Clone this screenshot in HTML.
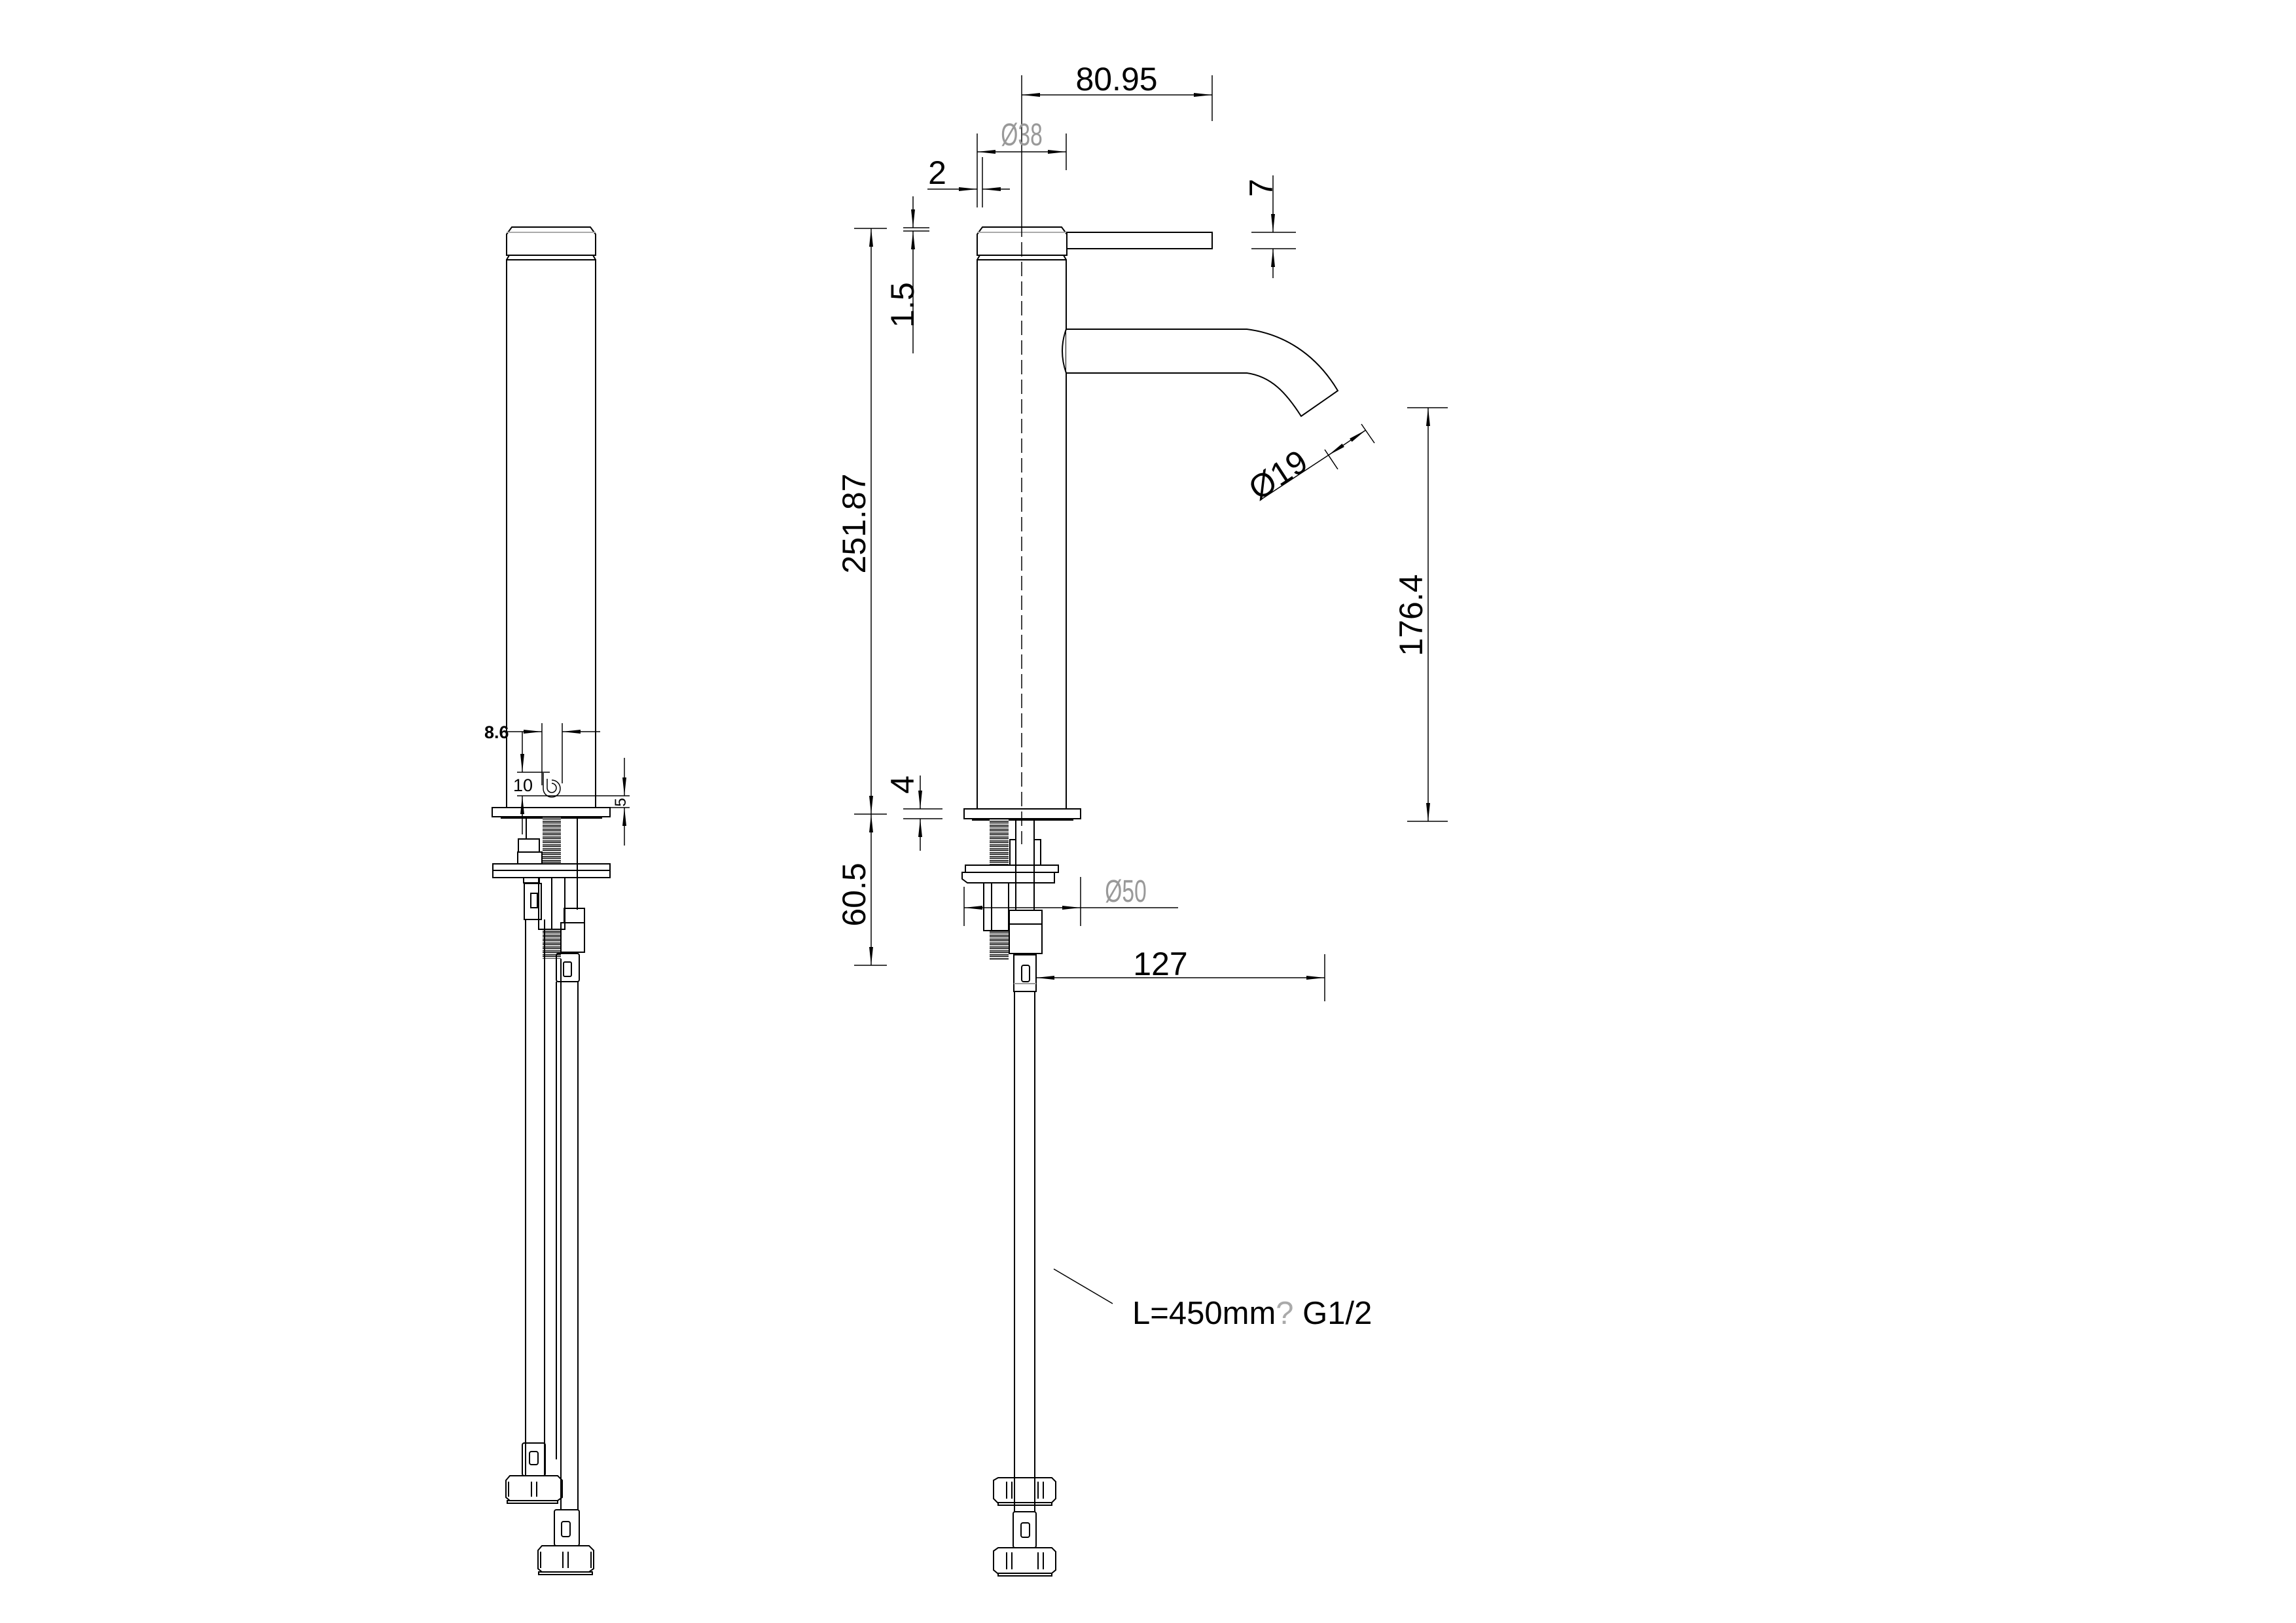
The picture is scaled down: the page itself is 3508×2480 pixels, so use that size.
<!DOCTYPE html>
<html><head><meta charset="utf-8"><style>
html,body{margin:0;padding:0;background:#fff;}
svg{display:block;}
text{font-family:"Liberation Sans",sans-serif;fill:#000;}
</style></head><body>
<svg width="3508" height="2480" viewBox="0 0 3508 2480" xmlns="http://www.w3.org/2000/svg">
<defs>
<marker id="a" viewBox="0 0 28 8" refX="28" refY="4" markerWidth="28" markerHeight="8" markerUnits="userSpaceOnUse" orient="auto-start-reverse"><path d="M0,1 L28,4 L0,7 z" fill="#000"/></marker>
<pattern id="th" width="8" height="6" patternUnits="userSpaceOnUse"><rect width="8" height="6" fill="#fff"/><path d="M0,1 H8 M0,3.5 H8" stroke="#000" stroke-width="1.6"/></pattern>
</defs>
<g fill="none" stroke="#000" stroke-width="2">
<path d="M1493,390 V358 L1501,347 H1622 L1630,358 V390 Z"/>
<line x1="1493" y1="355" x2="1630" y2="355" stroke="#aaa"/>
<rect x="1630" y="355" width="222" height="25"/>
<path d="M1493,397 H1629 M1497,390 L1493,397 M1625,390 L1629,397" />
<rect x="1493" y="397" width="136" height="839"/>
<line x1="1561" y1="340" x2="1561" y2="1290" stroke-dasharray="22,8" stroke-width="1.5"/>
<rect x="1473" y="1236" width="178" height="15"/>
<line x1="1485" y1="1253" x2="1640" y2="1253"/>
<path d="M1629,503 H1905 C1960,510 2010,540 2044,597 L1988,636 C1965,600 1942,575 1905,570 H1629" fill="#fff"/>
<path d="M1629,503 Q1617,536 1629,570"/>
<rect x="1512" y="1251" width="29" height="71" fill="url(#th)" stroke="none"/>
<rect x="1512" y="1422" width="29" height="45" fill="url(#th)" stroke="none"/>
<rect x="1552" y="1251" width="28" height="140"/>
<rect x="1543" y="1283" width="9" height="39"/>
<rect x="1580" y="1283" width="10" height="39"/>
<rect x="1475" y="1322" width="142" height="11"/>
<path d="M1470,1333 H1611 V1349 H1478 L1470,1343 Z"/>
<rect x="1503" y="1349" width="38" height="73"/>
<line x1="1515" y1="1349" x2="1515" y2="1422"/>
<rect x="1542" y="1391" width="50" height="66"/>
<line x1="1542" y1="1412" x2="1592" y2="1412"/>
<rect x="1549" y="1459" width="34" height="56"/>
<rect x="1561" y="1475" width="12" height="25" rx="3"/>
<line x1="1549" y1="1503" x2="1583" y2="1503" stroke="#999"/>
<line x1="1550" y1="1515" x2="1550" y2="2310"/>
<line x1="1581" y1="1515" x2="1581" y2="2310"/>
<path d="M1518,2262 L1525,2258 H1607 L1613,2264 V2290 L1607,2296 H1524 L1518,2290 Z"/>
<path d="M1538,2264 V2290 M1546,2264 V2290 M1586,2264 V2290 M1594,2264 V2290"/>
<rect x="1525" y="2296" width="82" height="4"/>
<rect x="1548" y="2310" width="35" height="55" rx="3"/>
<rect x="1560" y="2327" width="13" height="22" rx="3"/>
<path d="M1518,2370 L1525,2365 H1607 L1613,2371 V2399 L1607,2404 H1524 L1518,2399 Z"/>
<path d="M1538,2372 V2398 M1546,2372 V2398 M1586,2372 V2398 M1594,2372 V2398"/>
<rect x="1525" y="2404" width="82" height="4"/>
<g stroke-width="1.5">
<line x1="1852" y1="115" x2="1852" y2="185"/>
<line x1="1561" y1="115" x2="1561" y2="340"/>
<line x1="1561" y1="145" x2="1852" y2="145" marker-start="url(#a)" marker-end="url(#a)"/>
<line x1="1629" y1="204" x2="1629" y2="260"/>
<line x1="1493" y1="204" x2="1493" y2="317"/>
<line x1="1493" y1="232" x2="1629" y2="232" marker-start="url(#a)" marker-end="url(#a)"/>
<line x1="1501" y1="240" x2="1501" y2="317"/>
<line x1="1417" y1="289" x2="1493" y2="289" marker-end="url(#a)"/>
<line x1="1543" y1="289" x2="1501" y2="289" marker-end="url(#a)"/>
<line x1="1380" y1="348" x2="1420" y2="348"/>
<line x1="1380" y1="353" x2="1420" y2="353"/>
<line x1="1395" y1="300" x2="1395" y2="348" marker-end="url(#a)"/>
<line x1="1395" y1="540" x2="1395" y2="353" marker-end="url(#a)"/>
<line x1="1305" y1="349" x2="1355" y2="349"/>
<line x1="1305" y1="1244" x2="1355" y2="1244"/>
<line x1="1305" y1="1475" x2="1355" y2="1475"/>
<line x1="1331" y1="349" x2="1331" y2="1244" marker-start="url(#a)" marker-end="url(#a)"/>
<line x1="1331" y1="1244" x2="1331" y2="1475" marker-start="url(#a)" marker-end="url(#a)"/>
<line x1="1380" y1="1236" x2="1440" y2="1236"/>
<line x1="1380" y1="1251" x2="1440" y2="1251"/>
<line x1="1406" y1="1185" x2="1406" y2="1236" marker-end="url(#a)"/>
<line x1="1406" y1="1300" x2="1406" y2="1251" marker-end="url(#a)"/>
<line x1="1912" y1="355" x2="1980" y2="355"/>
<line x1="1912" y1="380" x2="1980" y2="380"/>
<line x1="1945" y1="268" x2="1945" y2="355" marker-end="url(#a)"/>
<line x1="1945" y1="425" x2="1945" y2="380" marker-end="url(#a)"/>
<line x1="2024" y1="687" x2="2044" y2="717"/>
<line x1="2080" y1="648" x2="2100" y2="677"/>
<line x1="1927" y1="763" x2="2029" y2="696"/>
<line x1="2029" y1="696" x2="2087" y2="657" marker-start="url(#a)" marker-end="url(#a)"/>
<line x1="2150" y1="623" x2="2212" y2="623"/>
<line x1="2150" y1="1255" x2="2212" y2="1255"/>
<line x1="2182" y1="623" x2="2182" y2="1255" marker-start="url(#a)" marker-end="url(#a)"/>
<line x1="1473" y1="1355" x2="1473" y2="1415"/>
<line x1="1651" y1="1340" x2="1651" y2="1415"/>
<line x1="1473" y1="1387" x2="1651" y2="1387" marker-start="url(#a)" marker-end="url(#a)"/>
<line x1="1651" y1="1387" x2="1800" y2="1387"/>
<line x1="2024" y1="1458" x2="2024" y2="1530"/>
<line x1="1583" y1="1494" x2="2024" y2="1494" marker-start="url(#a)" marker-end="url(#a)"/>
<line x1="1610" y1="1939" x2="1700" y2="1992"/>
</g>
<path d="M774,390 V358 L782,347 H902 L910,358 V390 Z"/>
<line x1="774" y1="355" x2="910" y2="355" stroke="#aaa"/>
<path d="M774,397 H910 M778,390 L774,397 M906,390 L910,397"/>
<rect x="774" y="397" width="136" height="837"/>
<rect x="752" y="1234" width="180" height="14"/>
<line x1="765" y1="1250" x2="920" y2="1250"/>
<rect x="829" y="1248" width="28" height="72" fill="url(#th)" stroke="none"/>
<rect x="829" y="1420" width="28" height="45" fill="url(#th)" stroke="none"/>
<line x1="804" y1="1248" x2="804" y2="1282"/>
<line x1="882" y1="1248" x2="882" y2="1390"/>
<rect x="792" y="1282" width="32" height="20"/>
<rect x="791" y="1302" width="37" height="18"/>
<rect x="753" y="1320" width="179" height="21"/>
<line x1="753" y1="1330" x2="932" y2="1330"/>
<rect x="823" y="1341" width="40" height="79"/>
<line x1="843" y1="1341" x2="843" y2="1420"/>
<rect x="800" y="1341" width="24" height="8"/>
<rect x="801" y="1350" width="26" height="55"/>
<rect x="811" y="1365" width="10" height="22"/>
<line x1="803" y1="1405" x2="803" y2="2255"/>
<line x1="832" y1="1405" x2="832" y2="2255"/>
<rect x="862" y="1388" width="31" height="22"/>
<rect x="857" y="1410" width="36" height="45"/>
<rect x="850" y="1457" width="35" height="43" rx="3"/>
<rect x="861" y="1470" width="12" height="22" rx="2"/>
<line x1="857" y1="1465" x2="857" y2="2307"/>
<line x1="883" y1="1500" x2="883" y2="2307"/>
<line x1="850" y1="1500" x2="850" y2="2230"/>
<rect x="798" y="2205" width="35" height="50" rx="3"/>
<rect x="809" y="2218" width="13" height="20" rx="3"/>
<path d="M773,2262 L779,2255 H852 L859,2262 V2288 L852,2293 H779 L773,2288 Z"/>
<path d="M777,2264 V2287 M812,2264 V2287 M820,2264 V2287"/>
<rect x="775" y="2293" width="77" height="4"/>
<rect x="847" y="2307" width="38" height="55" rx="3"/>
<rect x="858" y="2325" width="13" height="23" rx="3"/>
<path d="M822,2369 L828,2362 H900 L907,2369 V2397 L900,2402 H828 L822,2397 Z"/>
<path d="M826,2371 V2396 M860,2371 V2396 M868,2371 V2396 M903,2371 V2396"/>
<rect x="823" y="2402" width="82" height="4"/>
<g stroke-width="1.5">
<line x1="828" y1="1105" x2="828" y2="1200"/>
<line x1="859" y1="1105" x2="859" y2="1197"/>
<line x1="772" y1="1118" x2="828" y2="1118" marker-end="url(#a)"/>
<line x1="917" y1="1118" x2="859" y2="1118" marker-end="url(#a)"/>
<line x1="790" y1="1180" x2="840" y2="1180"/>
<line x1="790" y1="1216" x2="962" y2="1216"/>
<line x1="798" y1="1118" x2="798" y2="1180" marker-end="url(#a)"/>
<line x1="798" y1="1275" x2="798" y2="1216" marker-end="url(#a)"/>
<line x1="932" y1="1234" x2="962" y2="1234"/>
<line x1="954" y1="1158" x2="954" y2="1216" marker-end="url(#a)"/>
<line x1="954" y1="1292" x2="954" y2="1234" marker-end="url(#a)"/>
<path d="M830,1181 V1205 A13,13 0 1 0 843,1192 M836,1190 V1204 A7,7 0 1 0 843,1197" />
</g>
</g>
<g font-size="50">
<text x="1706" y="138" text-anchor="middle">80.95</text>
<text x="1432" y="281" text-anchor="middle">2</text>
<text transform="translate(1396,466) rotate(-90)" text-anchor="middle">1.5</text>
<text transform="translate(1322,800) rotate(-90)" text-anchor="middle">251.87</text>
<text transform="translate(1396,1199) rotate(-90)" text-anchor="middle">4</text>
<text transform="translate(1322,1367) rotate(-90)" text-anchor="middle">60.5</text>
<text transform="translate(1944,287) rotate(-90)" text-anchor="middle">7</text>
<text transform="translate(2173,940) rotate(-90)" text-anchor="middle">176.4</text>
<text transform="translate(1962,740) rotate(-33)" text-anchor="middle">Ø19</text>
<text x="1773" y="1490" text-anchor="middle">127</text>
<text x="1730" y="2023" font-size="49">L=450mm<tspan style="fill:#aaa">?</tspan> G1/2</text>
</g>
<g font-size="48">
<text transform="translate(1561,222) scale(0.7,1)" text-anchor="middle" style="fill:#999">Ø38</text>
<text transform="translate(1720,1378) scale(0.7,1)" text-anchor="middle" style="fill:#999">Ø50</text>
</g>
<g font-size="27">
<text x="740" y="1128" font-weight="bold">8.6</text>
<text x="784" y="1209">10</text>
<text transform="translate(956,1226) rotate(-90)" text-anchor="middle" font-size="24">5</text>
</g>
</svg>
</body></html>
